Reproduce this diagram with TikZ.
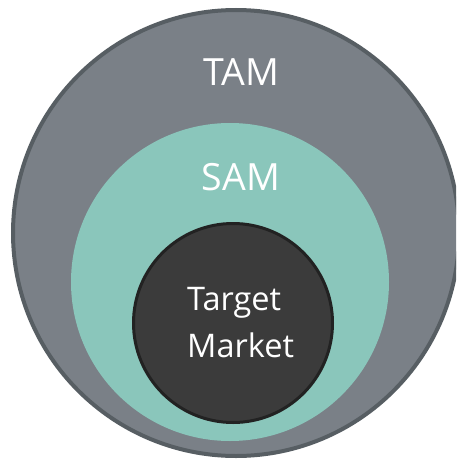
\documentclass[tikz,border=0pt]{standalone}
\usepackage{fontspec}
\setmainfont{Open Sans}
\definecolor{tamfill}{HTML}{7A8087}
\definecolor{tamline}{HTML}{575E63}
\definecolor{samfill}{HTML}{8AC6BB}
\definecolor{tmfill}{HTML}{3B3B3B}
\definecolor{tmline}{HTML}{222222}
\tikzset{
  tamcircle/.style={circle, fill=tamfill, draw=tamline, line width=4pt, minimum size=446pt, inner sep=0pt},
  samcircle/.style={circle, fill=samfill, draw=none, minimum size=318pt, inner sep=0pt},
  tmcircle/.style={circle, fill=tmfill, draw=tmline, line width=3pt, minimum size=199pt, inner sep=0pt},
  lbl/.style={text=white, inner sep=0pt}
}
\begin{document}
\begin{tikzpicture}[x=1pt,y=-1pt]
\useasboundingbox (0,0) rectangle (456,460);
\clip (0,0) rectangle (456,460);
\node[tamcircle] (tam) at (236,233) {};
\node[samcircle] (sam) at (230,282) {};
\node[tmcircle] (tm) at (233,323) {};
\node[lbl, font=\fontsize{37.5}{44}\selectfont, anchor=base] (tamlbl) at (241,85) {TAM};
\node[lbl, font=\fontsize{37.5}{44}\selectfont, anchor=base] (samlbl) at (241,190) {SAM};
\node[lbl, font=\fontsize{32.5}{47}\selectfont, align=left, anchor=west] (tmlbl) at (187,322.5) {Target\\Market};
\end{tikzpicture}
\end{document}
